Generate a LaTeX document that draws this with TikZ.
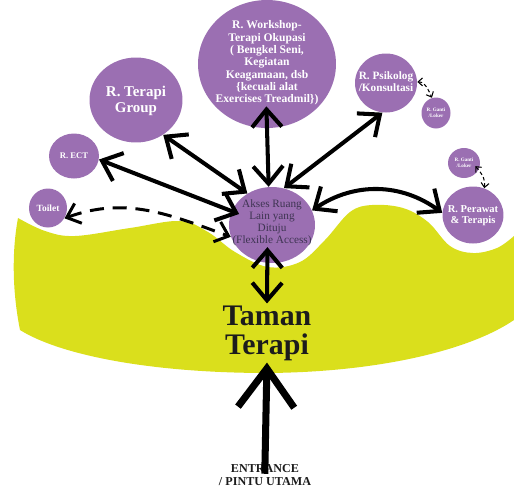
\documentclass[tikz,border=0pt]{standalone}
\usepackage{fontspec}
\setmainfont{Liberation Serif}
\usetikzlibrary{arrows.meta,shapes.geometric}
\definecolor{roomfill}{RGB}{155,111,178}
\definecolor{lawn}{RGB}{218,223,28}
\definecolor{hubtext}{RGB}{62,52,82}
\definecolor{darkink}{RGB}{28,28,28}
\tikzset{
  room/.style={ellipse, fill=roomfill, inner sep=0pt},
  roomtxt/.style={align=center, text=white, inner sep=0pt},
  arr/.style={line width=2.3pt,
    {Straight Barb[length=10pt,width=17pt]}-{Straight Barb[length=10pt,width=17pt]}},
  bigarr/.style={line width=4pt, -{Straight Barb[length=22pt,width=32pt]}},
  dasharr/.style={line width=1.7pt, dash pattern=on 8pt off 5pt,
    {Straight Barb[length=7pt,width=12pt]}-{Straight Barb[length=7pt,width=12pt]}},
  thinarr/.style={line width=0.6pt, dash pattern=on 2pt off 1.5pt,
    {Straight Barb[length=2.5pt,width=4.5pt]}-{Straight Barb[length=2.5pt,width=4.5pt]}},
}
\begin{document}
\begin{tikzpicture}[x=0.02cm, y=-0.02cm]
\useasboundingbox (0,0) rectangle (514,491);

% the garden area
\fill[lawn] plot[smooth, tension=0.6] coordinates {(18,218) (45,231) (75,236) (130,228)
  (180,221) (208,232) (235,252) (268,267) (300,262) (325,240) (350,212) (372,205)
  (403,208) (428,222) (450,246) (473,253) (497,248) (514,236)}
  -- (514,320) .. controls (470,350) and (380,372) .. (268,373)
  .. controls (150,373) and (60,355) .. (20,330)
  .. controls (12,290) and (12,250) .. (18,218) -- cycle;

% rooms
\node[room, minimum width=2.76cm, minimum height=2.56cm] (ws) at (267,64) {};
\node[room, minimum width=1.86cm, minimum height=1.70cm] (grp) at (136,100) {};
\node[room, minimum width=1.00cm, minimum height=0.90cm] (ect) at (74,156) {};
\node[room, minimum width=0.76cm, minimum height=0.78cm] (tlt) at (48,208) {};
\node[room, minimum width=1.72cm, minimum height=1.52cm] (aks) at (272,225) {};
\node[room, minimum width=1.24cm, minimum height=1.18cm] (psk) at (386,83) {};
\node[room, minimum width=0.58cm, minimum height=0.62cm] (lk1) at (436,113) {};
\node[room, minimum width=0.64cm, minimum height=0.60cm] (lk2) at (464,163) {};
\node[room, minimum width=1.22cm, minimum height=1.14cm] (prw) at (473,215) {};

% room names
\node[roomtxt, font=\bfseries\fontsize{6.6}{7}\selectfont] (wst) at (267,63)
  {R. Workshop-\\Terapi Okupasi\\( Bengkel Seni,\\Kegiatan\\Keagamaan, dsb\\\{kecuali alat\\Exercises Treadmil\})};
\node[roomtxt, font=\bfseries\fontsize{8.5}{9}\selectfont] (grpt) at (136,101) {R. Terapi\\Group};
\node[roomtxt, font=\bfseries\fontsize{4.9}{5}\selectfont] (ectt) at (74,156) {R. ECT};
\node[roomtxt, font=\bfseries\fontsize{5.4}{6}\selectfont] (tltt) at (48,208) {Toilet};
\node[roomtxt, text=hubtext, font=\fontsize{6.4}{6.8}\selectfont] (akst) at (272,223)
  {Akses Ruang\\Lain yang\\Dituju\\(Flexible Access)};
\node[roomtxt, font=\bfseries\fontsize{6.4}{6.8}\selectfont] (pskt) at (386,82) {R. Psikolog\\/Konsultasi};
\node[roomtxt, font=\bfseries\fontsize{2.9}{3.4}\selectfont] (lk1t) at (436,113) {R. Ganti\\/Loker};
\node[roomtxt, font=\bfseries\fontsize{2.9}{3.4}\selectfont] (lk2t) at (464,163) {R. Ganti\\/Loker};
\node[roomtxt, font=\bfseries\fontsize{6}{6.4}\selectfont] (prwt) at (473,216) {R. Perawat\\\& Terapis};

% garden and entrance labels
\node[align=center, text=darkink, inner sep=1pt, font=\bfseries\fontsize{17}{16.5}\selectfont]
  (tmn) at (267,333) {Taman\\Terapi};
\node[align=center, text=darkink, inner sep=1pt, font=\bfseries\fontsize{6.9}{6.9}\selectfont]
  (ent) at (265,475) {ENTRANCE\\/ PINTU UTAMA};

% connections
\draw[arr, shorten >=-0.44cm] (aks.95) -- (ws.-90);
\draw[arr] (aks.128) -- (grp.-52);
\draw[arr, shorten <=-0.16cm] (aks.161) -- (ect.-8);
\draw[arr] (aks.72) -- (psk.-97);
\draw[arr] (aks.20) to[bend left=35] (prw.176);
\draw[arr, shorten <=-0.32cm] (aks.-97) -- (tmn.north);
\draw[bigarr, shorten <=-0.22cm] (ent.north) -- (tmn.south);
\draw[dasharr] (tlt.-32) to[out=20, in=160] (aks.196);
\draw[thinarr] (psk.2) to[out=0, in=115] (lk1.105);
\draw[thinarr, shorten <=-0.1cm] (lk2.-25) to[bend left=25] (prw.67);
\end{tikzpicture}
\end{document}
